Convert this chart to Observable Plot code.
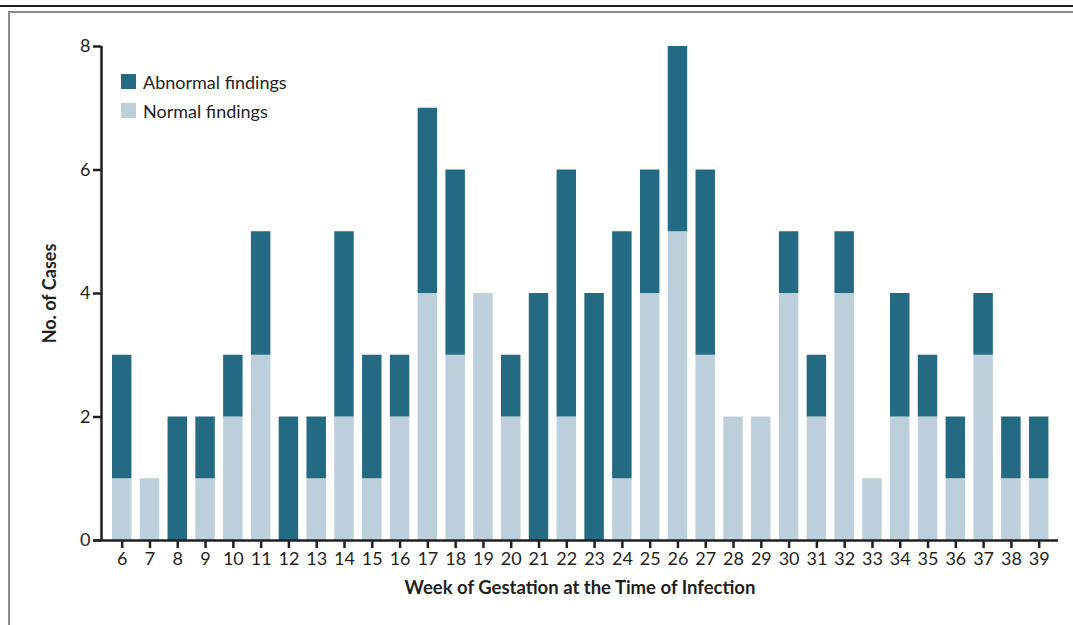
<!DOCTYPE html>
<html><head><meta charset="utf-8">
<script src="https://cdn.jsdelivr.net/npm/d3@7"></script>
<script src="https://cdn.jsdelivr.net/npm/@observablehq/plot@0.6"></script>
<style>
body{margin:0;background:#fff;font-family:Lato,"Open Sans",sans-serif;color:#231f20;}
#wrap{position:relative;width:1073px;height:625px;overflow:hidden;}
.topline{position:absolute;left:0;top:5px;width:1073px;height:2px;background:#231f20;}
.grayline{position:absolute;left:8px;top:11px;width:1065px;height:2px;background:#8a8a8a;}
.leftline{position:absolute;left:8px;top:11px;width:2px;height:614px;background:#8a8a8a;}
.legend{position:absolute;left:121px;top:67px;font-size:18px;}
.legend div{display:flex;align-items:center;height:29px;}
.legend span.sw{display:inline-block;width:15px;height:15px;margin-right:7px;}
#chart{position:absolute;left:0;top:0;}
</style></head>
<body>
<div id="wrap">
<div id="chart"></div>
<div class="topline"></div><div class="grayline"></div><div class="leftline"></div>
<div class="legend" id="legend"></div>
</div>
<script>
const weeks = [6,7,8,9,10,11,12,13,14,15,16,17,18,19,20,21,22,23,24,25,26,27,28,29,30,31,32,33,34,35,36,37,38,39];
const normal   = [1,1,0,1,2,3,0,1,2,1,2,4,3,4,2,0,2,0,1,4,5,3,2,2,4,2,4,1,2,2,1,3,1,1];
const abnormal = [2,0,2,1,1,2,2,1,3,2,1,3,3,0,1,4,4,4,4,2,3,3,0,0,1,1,1,0,2,1,1,1,1,1];
const seriesNames = ["Normal findings","Abnormal findings"];
const seriesColors = {"Abnormal findings":"#236a82","Normal findings":"#bccfdb"};
const yTicks = [0,2,4,6,8];
const xLabel = "Week of Gestation at the Time of Infection";
const yLabel = "No. of Cases";

const rows = [];
weeks.forEach((w,i)=>{
  rows.push({week:w, type:"Normal findings", count:normal[i]});
  rows.push({week:w, type:"Abnormal findings", count:abnormal[i]});
});
const hw = 0.35;
const xDomain = [5.255, 39.695];
const axisExt = [4.967, 39.695];

const plot = Plot.plot({
  width:1073, height:625,
  marginTop:46, marginBottom:85, marginLeft:101, marginRight:15,
  style:{fontFamily:"Lato, 'Open Sans', sans-serif", fontSize:"18px", color:"#231f20", background:"transparent"},
  x:{type:"linear", domain:xDomain},
  y:{domain:[0,8]},
  color:{domain:["Abnormal findings","Normal findings"], range:["#236a82","#bccfdb"]},
  marks:[
    Plot.rectY(rows, {x1:d=>d.week-hw, x2:d=>d.week+hw, y:"count", fill:"type", order:seriesNames}),
    Plot.ruleY([0], {x1:axisExt[0], x2:axisExt[1], stroke:"#231f20", strokeWidth:2.5}),
    Plot.ruleX([xDomain[0]], {y1:0, y2:8, stroke:"#231f20", strokeWidth:2.5}),
    Plot.axisX({ticks:weeks, tickFormat:d=>d, tickSize:8, tickPadding:4, label:null, strokeWidth:2.5, fontSize:18, fill:"#231f20"}),
    Plot.axisY({ticks:yTicks, tickSize:8, tickPadding:3, label:null, strokeWidth:2.5, fontSize:18, fill:"#231f20"}),
    Plot.text([xLabel], {frameAnchor:"bottom", dy:53, textAnchor:"middle", fontWeight:"bold", fontSize:18.5, fill:"#231f20"}),
    Plot.text([yLabel], {frameAnchor:"left", dx:-51, rotate:-90, textAnchor:"middle", fontWeight:"bold", fontSize:18, fill:"#231f20"})
  ]
});
document.getElementById("chart").appendChild(plot);

const leg = document.getElementById("legend");
["Abnormal findings","Normal findings"].forEach(n=>{
  const d = document.createElement("div");
  d.innerHTML = `<span class="sw" style="background:${seriesColors[n]}"></span>${n}`;
  leg.appendChild(d);
});
</script>
</body></html>
